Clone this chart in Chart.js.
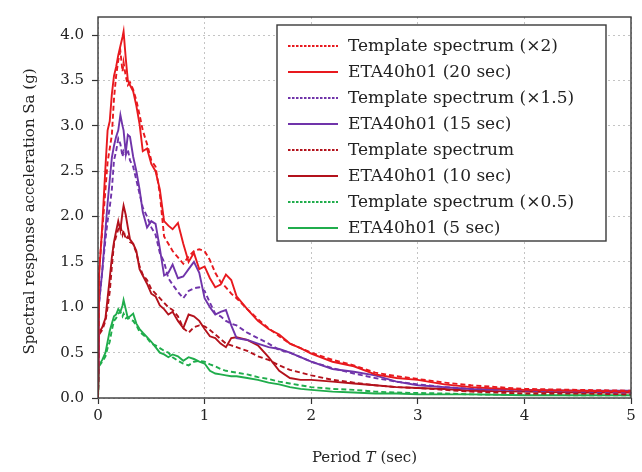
<!DOCTYPE html>
<html>
<head>
<meta charset="utf-8">
<style>
  html, body { margin: 0; padding: 0; background: #fff; }
  #wrap { width: 642px; height: 472px; }
</style>
</head>
<body>
<div id="wrap">
    <canvas id="myChart" width="642" height="472"></canvas>
</div>

<script src="https://cdn.jsdelivr.net/npm/chart.js@4.4.1/dist/chart.umd.min.js"></script>

<script>
    // periods (sec)
    var periods = [0, 0.01, 0.04, 0.07, 0.09, 0.11, 0.13, 0.15, 0.17, 0.19,
        0.21, 0.23, 0.24, 0.26, 0.28, 0.3, 0.33, 0.36, 0.39, 0.42,
        0.46, 0.5, 0.54, 0.58, 0.62, 0.66, 0.7, 0.75, 0.8, 0.85,
        0.9, 0.95, 1.0, 1.05, 1.1, 1.15, 1.2, 1.25, 1.3, 1.4,
        1.5, 1.6, 1.7, 1.8, 1.9, 2.0, 2.2, 2.4, 2.6, 2.8,
        3.0, 3.25, 3.5, 4.0, 4.5, 5.0];

    var template2 = [0, 1.4, 1.85, 2.3, 2.6, 2.75, 2.9, 3.3, 3.55, 3.72,
        3.82, 3.6, 3.7, 3.55, 3.45, 3.48, 3.4, 3.28, 3.12, 2.95,
        2.8, 2.62, 2.55, 2.25, 1.78, 1.7, 1.62, 1.55, 1.48, 1.56,
        1.62, 1.64, 1.62, 1.52, 1.38, 1.28, 1.22, 1.15, 1.1, 0.98,
        0.87, 0.77, 0.68, 0.6, 0.55, 0.5, 0.42, 0.36, 0.28, 0.24,
        0.21, 0.17, 0.14, 0.1, 0.09, 0.08];
    var eta20 = [0, 1.35, 1.9, 2.55, 2.95, 3.05, 3.35, 3.55, 3.65, 3.78,
        3.88, 3.98, 4.04, 3.75, 3.5, 3.45, 3.38, 3.22, 3.02, 2.72,
        2.75, 2.58, 2.5, 2.3, 1.95, 1.9, 1.86, 1.93, 1.7, 1.5,
        1.6, 1.42, 1.45, 1.32, 1.22, 1.25, 1.36, 1.3, 1.12, 0.98,
        0.85, 0.76, 0.7, 0.6, 0.55, 0.49, 0.4, 0.35, 0.26, 0.22,
        0.2, 0.15, 0.12, 0.09, 0.08, 0.07];
    var template15 = [0, 1.05, 1.4, 1.75, 1.95, 2.1, 2.3, 2.62, 2.72, 2.86,
        2.8, 2.66, 2.72, 2.68, 2.74, 2.62, 2.55, 2.4, 2.25, 2.1,
        2.0, 1.88, 1.8, 1.6, 1.5, 1.32, 1.25, 1.17, 1.1, 1.18,
        1.21, 1.22, 1.18, 1.05, 0.93, 0.9, 0.85, 0.82, 0.8, 0.72,
        0.66, 0.6, 0.53, 0.5, 0.45, 0.4, 0.33, 0.27, 0.22, 0.18,
        0.15, 0.12, 0.1, 0.08, 0.07, 0.06];
    var eta15 = [0, 1.05, 1.4, 1.85, 2.15, 2.4, 2.65, 2.78, 2.88, 2.95,
        3.12, 3.0, 2.95, 2.7, 2.9, 2.88, 2.66, 2.5, 2.3, 2.05,
        1.88, 1.95, 1.92, 1.65, 1.35, 1.38, 1.47, 1.32, 1.34, 1.42,
        1.5, 1.38, 1.1, 1.0, 0.92, 0.95, 0.97, 0.8, 0.66, 0.64,
        0.6, 0.56, 0.54, 0.5, 0.45, 0.4, 0.32, 0.29, 0.25, 0.18,
        0.14, 0.12, 0.1, 0.09, 0.08, 0.08];
    var template1 = [0, 0.7, 0.75, 0.85, 1.0, 1.17, 1.45, 1.7, 1.78, 1.86,
        1.9, 1.8, 1.85, 1.75, 1.78, 1.72, 1.7, 1.6, 1.45, 1.36,
        1.3, 1.2, 1.15, 1.1, 1.05, 1.0, 0.97, 0.9, 0.77, 0.72,
        0.78, 0.8, 0.79, 0.75, 0.7, 0.65, 0.6, 0.58, 0.56, 0.52,
        0.46, 0.42, 0.36, 0.31, 0.28, 0.25, 0.2, 0.17, 0.14, 0.12,
        0.11, 0.09, 0.07, 0.05, 0.05, 0.04];
    var eta10 = [0, 0.72, 0.78, 0.88, 1.1, 1.32, 1.55, 1.72, 1.84, 1.95,
        1.85, 2.05, 2.12, 2.02, 1.88, 1.75, 1.7, 1.62, 1.42, 1.35,
        1.26, 1.15, 1.12, 1.02, 0.98, 0.92, 0.95, 0.85, 0.77, 0.92,
        0.9, 0.85, 0.76, 0.68, 0.66, 0.6, 0.56, 0.66, 0.67, 0.64,
        0.58, 0.45, 0.3, 0.22, 0.2, 0.2, 0.18, 0.16, 0.14, 0.12,
        0.11, 0.1, 0.08, 0.07, 0.06, 0.06];
    var template05 = [0, 0.35, 0.4, 0.46, 0.55, 0.62, 0.75, 0.85, 0.88, 0.93,
        0.95, 0.9, 0.93, 0.88, 0.89, 0.86, 0.85, 0.8, 0.73, 0.7,
        0.66, 0.6, 0.58, 0.55, 0.52, 0.5, 0.45, 0.41, 0.38, 0.36,
        0.4, 0.41, 0.4, 0.37, 0.35, 0.32, 0.3, 0.29, 0.28, 0.26,
        0.23, 0.21, 0.18, 0.16, 0.14, 0.12, 0.1, 0.09, 0.07, 0.06,
        0.055, 0.05, 0.04, 0.035, 0.03, 0.03];
    var eta5 = [0, 0.36, 0.42, 0.5, 0.62, 0.74, 0.82, 0.9, 0.92, 0.98,
        0.95, 1.02, 1.08, 0.98, 0.88, 0.9, 0.93, 0.82, 0.76, 0.72,
        0.67, 0.62, 0.56, 0.5, 0.48, 0.45, 0.48, 0.46, 0.41, 0.45,
        0.43, 0.4, 0.38, 0.3, 0.27, 0.26, 0.25, 0.24, 0.24, 0.22,
        0.2, 0.17, 0.15, 0.12, 0.1, 0.09, 0.07, 0.06, 0.05, 0.05,
        0.04, 0.04, 0.04, 0.03, 0.03, 0.03];

    var seriesNames = ['Template spectrum (\u00d72)', 'ETA40h01 (20 sec)',
        'Template spectrum (\u00d71.5)', 'ETA40h01 (15 sec)',
        'Template spectrum', 'ETA40h01 (10 sec)',
        'Template spectrum (\u00d70.5)', 'ETA40h01 (5 sec)'];
    var seriesValues = [template2, eta20, template15, eta15, template1, eta10, template05, eta5];
    var seriesColors = ['#e8191e', '#e8191e', '#7034aa', '#7034aa', '#b3121c', '#b3121c', '#20ad4c', '#20ad4c'];
    var seriesDashed = [true, false, true, false, true, false, true, false];

    var xTickValues = [0, 1, 2, 3, 4, 5];
    var xTickLabels = ['0', '1', '2', '3', '4', '5'];
    var yTickValues = [0, 0.5, 1, 1.5, 2, 2.5, 3, 3.5, 4];
    var yTickLabels = ['0.0', '0.5', '1.0', '1.5', '2.0', '2.5', '3.0', '3.5', '4.0'];

    var SERIF = '"DejaVu Serif", "Liberation Serif", serif';

    var datasets = seriesNames.map(function (name, i) {
        return {
            label: name,
            data: periods.map(function (t, j) { return {x: t, y: seriesValues[i][j]}; }),
            borderColor: seriesColors[i],
            borderWidth: 1.9,
            borderDash: seriesDashed[i] ? [5, 3] : [],
            pointRadius: 0,
            tension: 0,
            fill: false
        };
    });

    // frame, axis titles and the boxed legend
    var decorPlugin = {
        id: 'decorPlugin',
        afterDraw: function (chart) {
            var ctx = chart.ctx;
            var a = chart.chartArea;
            ctx.save();

            // frame
            ctx.setLineDash([]);
            ctx.strokeStyle = '#3a3a3a';
            ctx.lineWidth = 1.4;
            ctx.strokeRect(a.left, a.top, a.right - a.left, a.bottom - a.top);

            // y title
            ctx.fillStyle = '#222';
            ctx.font = '15px ' + SERIF;
            ctx.textAlign = 'center';
            ctx.textBaseline = 'middle';
            ctx.save();
            ctx.translate(30, (a.top + a.bottom) / 2 + 4);
            ctx.rotate(-Math.PI / 2);
            ctx.fillText('Spectral response acceleration Sa (g)', 0, 0);
            ctx.restore();

            // x title with italic T
            var parts = [['Period ', ''], ['T', 'italic '], [' (sec)', '']];
            var total = 0;
            parts.forEach(function (p) {
                ctx.font = p[1] + '15px ' + SERIF;
                total += ctx.measureText(p[0]).width;
            });
            var x = (a.left + a.right) / 2 - total / 2;
            ctx.textAlign = 'left';
            parts.forEach(function (p) {
                ctx.font = p[1] + '15px ' + SERIF;
                ctx.fillText(p[0], x, 458);
                x += ctx.measureText(p[0]).width;
            });

            // legend box
            var bx = 277, by = 25, bw = 329, bh = 216;
            ctx.fillStyle = '#fff';
            ctx.fillRect(bx, by, bw, bh);
            ctx.strokeStyle = '#3a3a3a';
            ctx.lineWidth = 1.4;
            ctx.strokeRect(bx, by, bw, bh);

            ctx.font = '17px ' + SERIF;
            ctx.textBaseline = 'middle';
            chart.data.datasets.forEach(function (ds, i) {
                var y = 46 + i * 26;
                ctx.beginPath();
                ctx.setLineDash(seriesDashed[i] ? [2.5, 1.5] : []);
                ctx.strokeStyle = ds.borderColor;
                ctx.lineWidth = 1.8;
                ctx.moveTo(288, y);
                ctx.lineTo(338, y);
                ctx.stroke();
                ctx.setLineDash([]);
                ctx.fillStyle = '#222';
                ctx.fillText(ds.label, 348, y + 1);
            });
            ctx.restore();
        }
    };

    const ctx = document.getElementById('myChart');

    new Chart(ctx, {
        type: 'line',
        data: { datasets: datasets },
        options: {
            responsive: false,
            animation: false,
            layout: { padding: { top: 12, right: 11, left: 0, bottom: 0 } },
            scales: {
                x: {
                    type: 'linear',
                    min: 0,
                    max: 5,
                    afterBuildTicks: function (scale) {
                        scale.ticks = xTickValues.map(function (v) { return {value: v}; });
                    },
                    afterFit: function (scale) { scale.height = 74; },
                    ticks: {
                        callback: function (v, i) { return xTickLabels[i]; },
                        font: { family: SERIF, size: 15 },
                        color: '#222',
                        padding: 3,
                        maxRotation: 0
                    },
                    grid: {
                        color: '#c4c4c4',
                        tickColor: '#333',
                        tickLength: 6,
                        tickWidth: 1.2
                    },
                    border: { display: false, dash: [2, 3] }
                },
                y: {
                    min: 0,
                    max: 4.2,
                    afterBuildTicks: function (scale) {
                        scale.ticks = yTickValues.map(function (v) { return {value: v}; });
                    },
                    afterFit: function (scale) { scale.width = 98; },
                    ticks: {
                        callback: function (v, i) { return yTickLabels[i]; },
                        font: { family: SERIF, size: 15 },
                        color: '#222',
                        padding: 8
                    },
                    grid: {
                        color: '#c4c4c4',
                        tickColor: '#333',
                        tickLength: 6,
                        tickWidth: 1.2
                    },
                    border: { display: false, dash: [2, 3] }
                }
            },
            plugins: {
                legend: { display: false },
                tooltip: { enabled: false }
            }
        },
        plugins: [decorPlugin]
    });
</script>
</body>
</html>
